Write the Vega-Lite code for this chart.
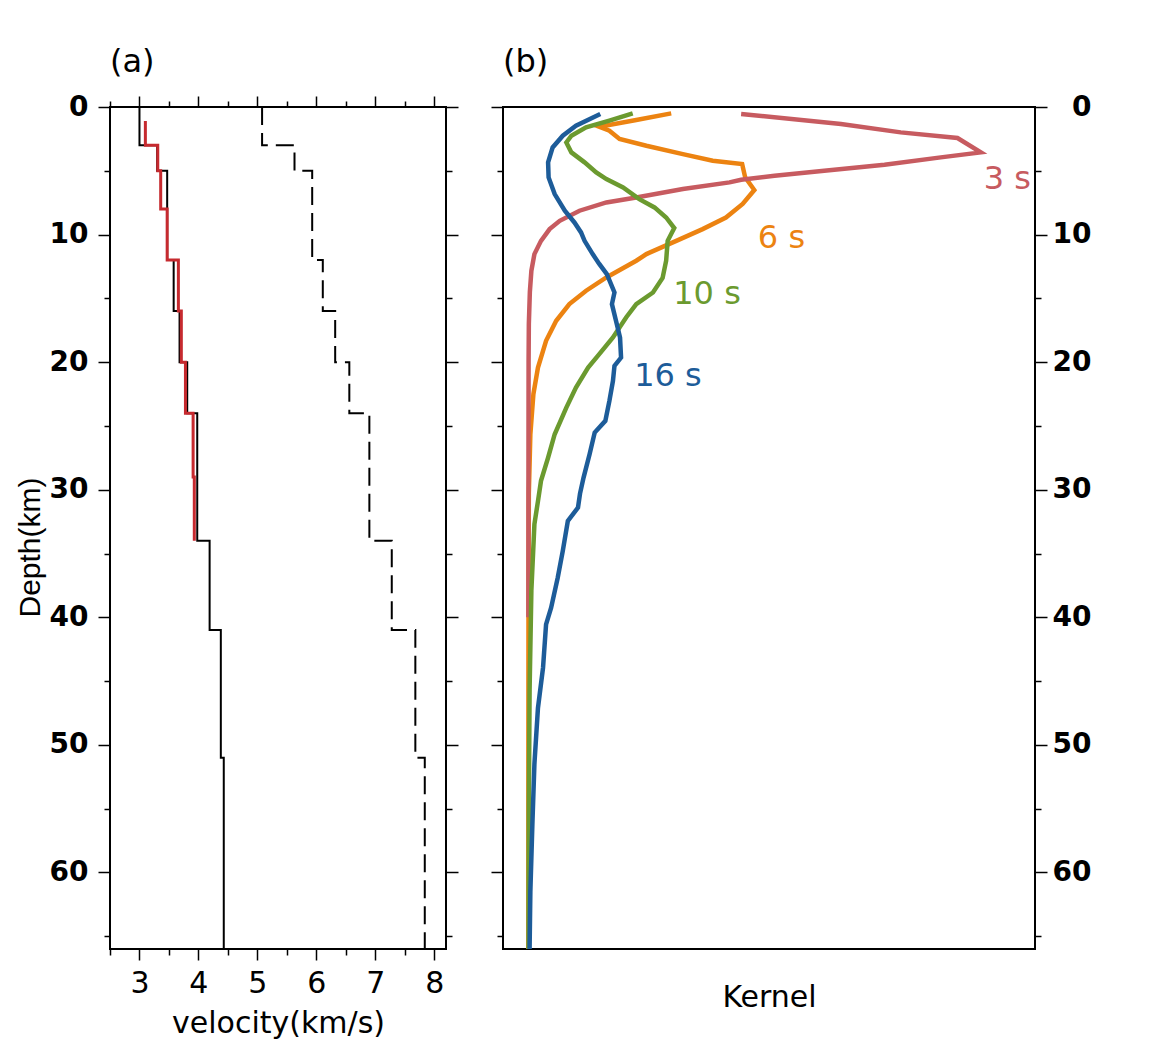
{
  "$schema": "https://vega.github.io/schema/vega-lite/v6.json",
  "background": "white",
  "padding": {"left": 14, "top": 45, "right": 5, "bottom": 5},
  "spacing": 29,
  "config": {
    "font": "DejaVu Sans",
    "view": {"stroke": "black", "strokeWidth": 2},
    "axis": {
      "domain": false,
      "grid": false,
      "tickColor": "black",
      "tickWidth": 1.5,
      "labelColor": "black",
      "titleColor": "black",
      "labelFont": "DejaVu Sans",
      "titleFont": "DejaVu Sans",
      "titleFontWeight": "normal",
      "labelFontSize": 28,
      "titleFontSize": 30
    },
    "title": {"font": "DejaVu Sans", "fontSize": 32, "fontWeight": "normal", "color": "black", "anchor": "start", "frame": "group"}
  },
  "datasets": {
    "vs": [
      {"v": 3.00, "d": 0, "o": 1}, {"v": 3.00, "d": 3, "o": 2},
      {"v": 3.30, "d": 3, "o": 3}, {"v": 3.30, "d": 5, "o": 4},
      {"v": 3.47, "d": 5, "o": 5}, {"v": 3.47, "d": 12, "o": 6},
      {"v": 3.58, "d": 12, "o": 7}, {"v": 3.58, "d": 16, "o": 8},
      {"v": 3.68, "d": 16, "o": 9}, {"v": 3.68, "d": 20, "o": 10},
      {"v": 3.81, "d": 20, "o": 11}, {"v": 3.81, "d": 24, "o": 12},
      {"v": 3.98, "d": 24, "o": 13}, {"v": 3.98, "d": 34, "o": 14},
      {"v": 4.19, "d": 34, "o": 15}, {"v": 4.19, "d": 41, "o": 16},
      {"v": 4.38, "d": 41, "o": 17}, {"v": 4.38, "d": 51, "o": 18},
      {"v": 4.43, "d": 51, "o": 19}, {"v": 4.43, "d": 66, "o": 20}
    ],
    "vp": [
      {"v": 5.08, "d": 0, "o": 1}, {"v": 5.08, "d": 3, "o": 2},
      {"v": 5.63, "d": 3, "o": 3}, {"v": 5.63, "d": 5, "o": 4},
      {"v": 5.93, "d": 5, "o": 5}, {"v": 5.93, "d": 12, "o": 6},
      {"v": 6.11, "d": 12, "o": 7}, {"v": 6.11, "d": 16, "o": 8},
      {"v": 6.32, "d": 16, "o": 9}, {"v": 6.32, "d": 20, "o": 10},
      {"v": 6.56, "d": 20, "o": 11}, {"v": 6.56, "d": 24, "o": 12},
      {"v": 6.90, "d": 24, "o": 13}, {"v": 6.90, "d": 34, "o": 14},
      {"v": 7.28, "d": 34, "o": 15}, {"v": 7.28, "d": 41, "o": 16},
      {"v": 7.68, "d": 41, "o": 17}, {"v": 7.68, "d": 51, "o": 18},
      {"v": 7.84, "d": 51, "o": 19}, {"v": 7.84, "d": 66, "o": 20}
    ],
    "inv": [
      {"v": 3.10, "d": 1.1, "o": 1}, {"v": 3.10, "d": 3, "o": 2},
      {"v": 3.31, "d": 3, "o": 3}, {"v": 3.31, "d": 5, "o": 4},
      {"v": 3.36, "d": 5, "o": 5}, {"v": 3.36, "d": 8, "o": 6},
      {"v": 3.47, "d": 8, "o": 7}, {"v": 3.47, "d": 12, "o": 8},
      {"v": 3.66, "d": 12, "o": 9}, {"v": 3.66, "d": 16, "o": 10},
      {"v": 3.71, "d": 16, "o": 11}, {"v": 3.71, "d": 20, "o": 12},
      {"v": 3.78, "d": 20, "o": 13}, {"v": 3.78, "d": 24, "o": 14},
      {"v": 3.91, "d": 24, "o": 15}, {"v": 3.91, "d": 29, "o": 16},
      {"v": 3.93, "d": 29, "o": 17}, {"v": 3.93, "d": 34, "o": 18}
    ],
    "kernels": [
      {"p": "6 s", "d": 0.5, "k": 0.282}, {"p": "6 s", "d": 1.02, "k": 0.213},
      {"p": "6 s", "d": 1.55, "k": 0.140}, {"p": "6 s", "d": 1.86, "k": 0.160},
      {"p": "6 s", "d": 2.51, "k": 0.180}, {"p": "6 s", "d": 3.04, "k": 0.233},
      {"p": "6 s", "d": 3.69, "k": 0.305}, {"p": "6 s", "d": 4.21, "k": 0.364},
      {"p": "6 s", "d": 4.47, "k": 0.422}, {"p": "6 s", "d": 5.52, "k": 0.428},
      {"p": "6 s", "d": 6.51, "k": 0.446}, {"p": "6 s", "d": 7.6, "k": 0.423},
      {"p": "6 s", "d": 8.66, "k": 0.390}, {"p": "6 s", "d": 9.57, "k": 0.344},
      {"p": "6 s", "d": 10.49, "k": 0.292}, {"p": "6 s", "d": 11.53, "k": 0.233},
      {"p": "6 s", "d": 12.05, "k": 0.213}, {"p": "6 s", "d": 13.36, "k": 0.154},
      {"p": "6 s", "d": 14.4, "k": 0.114}, {"p": "6 s", "d": 15.45, "k": 0.081},
      {"p": "6 s", "d": 16.76, "k": 0.055}, {"p": "6 s", "d": 18.33, "k": 0.035},
      {"p": "6 s", "d": 20.42, "k": 0.019}, {"p": "6 s", "d": 22.5, "k": 0.010},
      {"p": "6 s", "d": 25.65, "k": 0.004}, {"p": "6 s", "d": 30.3, "k": 0.001},
      {"p": "6 s", "d": 40, "k": 0.0003}, {"p": "6 s", "d": 50, "k": 0.0001},
      {"p": "6 s", "d": 66, "k": 0.0},

      {"p": "3 s", "d": 0.55, "k": 0.420}, {"p": "3 s", "d": 1.33, "k": 0.617},
      {"p": "3 s", "d": 1.99, "k": 0.735}, {"p": "3 s", "d": 2.43, "k": 0.847},
      {"p": "3 s", "d": 3.56, "k": 0.893}, {"p": "3 s", "d": 3.95, "k": 0.814},
      {"p": "3 s", "d": 4.53, "k": 0.703}, {"p": "3 s", "d": 5.0, "k": 0.584},
      {"p": "3 s", "d": 5.39, "k": 0.486}, {"p": "3 s", "d": 5.7, "k": 0.420},
      {"p": "3 s", "d": 5.91, "k": 0.397}, {"p": "3 s", "d": 6.43, "k": 0.305},
      {"p": "3 s", "d": 7.09, "k": 0.213}, {"p": "3 s", "d": 7.48, "k": 0.154},
      {"p": "3 s", "d": 8.13, "k": 0.101}, {"p": "3 s", "d": 8.92, "k": 0.062},
      {"p": "3 s", "d": 9.57, "k": 0.042}, {"p": "3 s", "d": 10.49, "k": 0.025},
      {"p": "3 s", "d": 11.53, "k": 0.012}, {"p": "3 s", "d": 12.84, "k": 0.006},
      {"p": "3 s", "d": 14.5, "k": 0.003}, {"p": "3 s", "d": 17, "k": 0.001},
      {"p": "3 s", "d": 20, "k": 0.0005}, {"p": "3 s", "d": 30, "k": 0.0002},
      {"p": "3 s", "d": 40, "k": 0.0001},

      {"p": "10 s", "d": 0.5, "k": 0.206}, {"p": "10 s", "d": 1.07, "k": 0.160},
      {"p": "10 s", "d": 1.6, "k": 0.114}, {"p": "10 s", "d": 2.25, "k": 0.085},
      {"p": "10 s", "d": 2.78, "k": 0.075}, {"p": "10 s", "d": 3.56, "k": 0.085},
      {"p": "10 s", "d": 4.34, "k": 0.111}, {"p": "10 s", "d": 5.13, "k": 0.134},
      {"p": "10 s", "d": 5.65, "k": 0.154}, {"p": "10 s", "d": 6.31, "k": 0.187},
      {"p": "10 s", "d": 7.22, "k": 0.219}, {"p": "10 s", "d": 7.87, "k": 0.249},
      {"p": "10 s", "d": 8.66, "k": 0.272}, {"p": "10 s", "d": 9.49, "k": 0.288},
      {"p": "10 s", "d": 10.49, "k": 0.275}, {"p": "10 s", "d": 12.05, "k": 0.272},
      {"p": "10 s", "d": 13.4, "k": 0.265}, {"p": "10 s", "d": 14.54, "k": 0.246},
      {"p": "10 s", "d": 15.45, "k": 0.213}, {"p": "10 s", "d": 16.5, "k": 0.193},
      {"p": "10 s", "d": 18.07, "k": 0.167}, {"p": "10 s", "d": 19.37, "k": 0.140},
      {"p": "10 s", "d": 20.42, "k": 0.118}, {"p": "10 s", "d": 21.99, "k": 0.094},
      {"p": "10 s", "d": 23.56, "k": 0.075}, {"p": "10 s", "d": 25.65, "k": 0.052},
      {"p": "10 s", "d": 27.48, "k": 0.039}, {"p": "10 s", "d": 29.3, "k": 0.025},
      {"p": "10 s", "d": 30.9, "k": 0.019}, {"p": "10 s", "d": 32.7, "k": 0.012},
      {"p": "10 s", "d": 37.9, "k": 0.006}, {"p": "10 s", "d": 45.7, "k": 0.0025},
      {"p": "10 s", "d": 55, "k": 0.001}, {"p": "10 s", "d": 66, "k": 0.0005},

      {"p": "16 s", "d": 0.55, "k": 0.142}, {"p": "16 s", "d": 1.47, "k": 0.094},
      {"p": "16 s", "d": 2.25, "k": 0.068}, {"p": "16 s", "d": 3.17, "k": 0.048},
      {"p": "16 s", "d": 4.34, "k": 0.039}, {"p": "16 s", "d": 5.52, "k": 0.040},
      {"p": "16 s", "d": 6.83, "k": 0.052}, {"p": "16 s", "d": 8.13, "k": 0.072},
      {"p": "16 s", "d": 9.05, "k": 0.091}, {"p": "16 s", "d": 9.83, "k": 0.104},
      {"p": "16 s", "d": 10.49, "k": 0.111}, {"p": "16 s", "d": 11.53, "k": 0.127},
      {"p": "16 s", "d": 12.3, "k": 0.140}, {"p": "16 s", "d": 13.1, "k": 0.155},
      {"p": "16 s", "d": 14.54, "k": 0.170}, {"p": "16 s", "d": 15.45, "k": 0.165},
      {"p": "16 s", "d": 16.76, "k": 0.173}, {"p": "16 s", "d": 18.07, "k": 0.181},
      {"p": "16 s", "d": 19.64, "k": 0.183}, {"p": "16 s", "d": 20.29, "k": 0.170},
      {"p": "16 s", "d": 21.47, "k": 0.167}, {"p": "16 s", "d": 23.04, "k": 0.160},
      {"p": "16 s", "d": 24.6, "k": 0.152}, {"p": "16 s", "d": 25.52, "k": 0.131},
      {"p": "16 s", "d": 27.2, "k": 0.121}, {"p": "16 s", "d": 29.05, "k": 0.109},
      {"p": "16 s", "d": 30.3, "k": 0.102}, {"p": "16 s", "d": 31.4, "k": 0.098},
      {"p": "16 s", "d": 32.45, "k": 0.078}, {"p": "16 s", "d": 34.8, "k": 0.068},
      {"p": "16 s", "d": 36.9, "k": 0.058}, {"p": "16 s", "d": 39.25, "k": 0.045},
      {"p": "16 s", "d": 40.55, "k": 0.035}, {"p": "16 s", "d": 43.95, "k": 0.029},
      {"p": "16 s", "d": 47.1, "k": 0.019}, {"p": "16 s", "d": 51.5, "k": 0.012},
      {"p": "16 s", "d": 56.2, "k": 0.008}, {"p": "16 s", "d": 61.5, "k": 0.004},
      {"p": "16 s", "d": 66, "k": 0.0025}
    ],
    "periods": [
      {"p": "3 s", "k": 0.899, "d": 5.65},
      {"p": "6 s", "k": 0.453, "d": 10.29},
      {"p": "10 s", "k": 0.286, "d": 14.68},
      {"p": "16 s", "k": 0.209, "d": 21.07}
    ]
  },
  "hconcat": [
    {
      "width": 336,
      "height": 842,
      "title": {"text": "(a)", "offset": 14},
      "resolve": {"axis": {"x": "independent", "y": "independent"}},
      "layer": [
        {
          "data": {"name": "vp"},
          "mark": {"type": "line", "color": "black", "strokeWidth": 2, "strokeDash": [18, 8]},
          "encoding": {
            "x": {
              "field": "v", "type": "quantitative",
              "scale": {"domain": [2.5, 8.2], "nice": false, "zero": false},
              "axis": {
                "orient": "bottom",
                "values": [2.5, 3, 3.5, 4, 4.5, 5, 5.5, 6, 6.5, 7, 7.5, 8],
                "labelExpr": "datum.value % 1 === 0 ? format(datum.value, 'd') : ''",
                "tickSize": {"condition": {"test": "datum.value % 1 === 0", "value": 11}, "value": 6},
                "labelFontSize": 30,
                "labelPadding": 8,
                "title": "velocity(km/s)",
                "titlePadding": 10
              }
            },
            "y": {
              "field": "d", "type": "quantitative",
              "scale": {"domain": [0, 66], "reverse": true, "nice": false, "zero": false},
              "axis": {
                "orient": "left",
                "values": [0, 5, 10, 15, 20, 25, 30, 35, 40, 45, 50, 55, 60, 65],
                "labelExpr": "datum.value % 10 === 0 ? format(datum.value, 'd') : ''",
                "tickSize": {"condition": {"test": "datum.value % 10 === 0", "value": 12}, "value": 6},
                "labelFontWeight": "bold",
                "labelPadding": 10,
                "title": "Depth(km)",
                "titleFont": "Liberation Sans",
                "titleFontSize": 30,
                "titlePadding": 4,
                "titleY": 440
              }
            },
            "order": {"field": "o", "type": "quantitative"}
          }
        },
        {
          "data": {"name": "vs"},
          "mark": {"type": "line", "color": "black", "strokeWidth": 2},
          "encoding": {
            "x": {
              "field": "v", "type": "quantitative",
              "axis": {
                "orient": "top",
                "values": [2.5, 3, 3.5, 4, 4.5, 5, 5.5, 6, 6.5, 7, 7.5, 8],
                "labels": false,
                "tickSize": {"condition": {"test": "datum.value % 1 === 0", "value": 11}, "value": 6},
                "title": null
              }
            },
            "y": {
              "field": "d", "type": "quantitative",
              "axis": {
                "orient": "right",
                "values": [0, 5, 10, 15, 20, 25, 30, 35, 40, 45, 50, 55, 60, 65],
                "labels": false,
                "tickSize": {"condition": {"test": "datum.value % 10 === 0", "value": 12}, "value": 6},
                "title": null
              }
            },
            "order": {"field": "o", "type": "quantitative"}
          }
        },
        {
          "data": {"name": "inv"},
          "mark": {"type": "line", "color": "#C62A2F", "strokeWidth": 3},
          "encoding": {
            "x": {"field": "v", "type": "quantitative", "axis": null},
            "y": {"field": "d", "type": "quantitative", "axis": null},
            "order": {"field": "o", "type": "quantitative"}
          }
        }
      ]
    },
    {
      "width": 532,
      "height": 842,
      "title": {"text": "(b)", "offset": 14},
      "resolve": {"axis": {"x": "independent", "y": "independent"}},
      "layer": [
        {
          "mark": {"type": "rule", "color": "black", "strokeWidth": 1},
          "encoding": {
            "x": {
              "datum": 0, "type": "quantitative",
              "scale": {"domain": [-0.05, 1.0], "nice": false, "zero": false},
              "axis": {"orient": "bottom", "ticks": false, "labels": false, "title": "Kernel", "titlePadding": 33}
            }
          }
        },
        {
          "data": {"name": "kernels"},
          "mark": {"type": "line", "strokeWidth": 4.5},
          "encoding": {
            "x": {"field": "k", "type": "quantitative", "axis": null},
            "y": {
              "field": "d", "type": "quantitative",
              "scale": {"domain": [0, 66], "reverse": true, "nice": false, "zero": false},
              "axis": {
                "orient": "left",
                "values": [0, 5, 10, 15, 20, 25, 30, 35, 40, 45, 50, 55, 60, 65],
                "labels": false,
                "tickSize": {"condition": {"test": "datum.value % 10 === 0", "value": 12}, "value": 6},
                "title": null
              }
            },
            "color": {
              "field": "p", "type": "nominal",
              "scale": {"domain": ["3 s", "6 s", "10 s", "16 s"], "range": ["#C75B60", "#EC8311", "#6B9A2F", "#1D5C99"]},
              "legend": null
            },
            "order": {"field": "d", "type": "quantitative"}
          }
        },
        {
          "data": {"name": "periods"},
          "mark": {"type": "text", "align": "left", "baseline": "middle", "fontSize": 32, "font": "DejaVu Sans"},
          "encoding": {
            "x": {"field": "k", "type": "quantitative", "axis": null},
            "y": {
              "field": "d", "type": "quantitative",
              "axis": {
                "orient": "right",
                "values": [0, 5, 10, 15, 20, 25, 30, 35, 40, 45, 50, 55, 60, 65],
                "labelExpr": "datum.value % 10 === 0 ? format(datum.value, 'd') : ''",
                "tickSize": {"condition": {"test": "datum.value % 10 === 0", "value": 12}, "value": 6},
                "labelFontWeight": "bold",
                "labelAlign": "right",
                "labelPadding": 44,
                "title": null
              }
            },
            "text": {"field": "p"},
            "color": {"field": "p", "type": "nominal", "legend": null}
          }
        }
      ]
    }
  ]
}
